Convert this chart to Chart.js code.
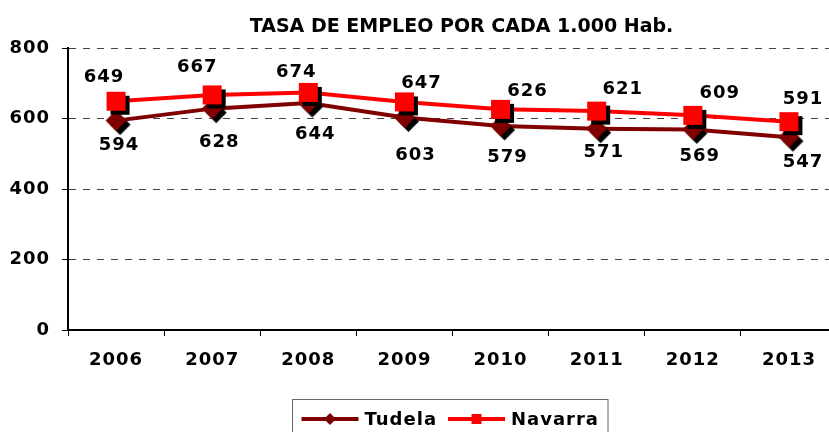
<!DOCTYPE html>
<html>
<head>
<meta charset="utf-8">
<script src="https://cdn.jsdelivr.net/npm/chart.js@4/dist/chart.umd.min.js"></script>
<style>
  html, body { margin: 0; padding: 0; background: #fff; overflow: hidden; }
  #wrap { width: 829px; height: 432px; overflow: hidden; position: relative; }
  #empleoChart { display: block; }
</style>
</head>
<body>
<div id="wrap"><canvas id="empleoChart" width="851" height="432"></canvas></div>
<script>
const years = ['2006', '2007', '2008', '2009', '2010', '2011', '2012', '2013'];
const tudela = [594, 628, 644, 603, 579, 571, 569, 547];
const navarra = [649, 667, 674, 647, 626, 621, 609, 591];
const yTicks = [0, 200, 400, 600, 800];
const chartTitle = 'TASA DE EMPLEO POR CADA 1.000 Hab.';

// label offsets (px) from each marker, the way the spreadsheet placed them
const tudelaLabelOffsets = [[3, 25], [7, 34], [7, 31], [11, 38], [7, 31], [7, 24], [7, 27], [14, 25]];
const navarraLabelOffsets = [[-12, -24], [-15, -28], [-12, -20], [17, -19], [27, -18], [26, -22], [27, -22], [14, -22]];

const DARK_RED = '#800000';
const RED = '#ff0000';
const FONT = '"DejaVu Sans", Verdana, sans-serif';

function makeMarker(shape, color, half, shadow) {
    const size = Math.ceil((half + shadow) * 2) + 2;
    const c = document.createElement('canvas');
    c.width = size;
    c.height = size;
    const ctx = c.getContext('2d');
    const mid = size / 2;
    const paint = (cx, cy, fill) => {
        ctx.fillStyle = fill;
        ctx.beginPath();
        if (shape === 'square') {
            ctx.rect(cx - half, cy - half, half * 2, half * 2);
        } else {
            ctx.moveTo(cx, cy - half);
            ctx.lineTo(cx + half, cy);
            ctx.lineTo(cx, cy + half);
            ctx.lineTo(cx - half, cy);
            ctx.closePath();
        }
        ctx.fill();
    };
    if (shadow) paint(mid + shadow, mid + shadow, '#000');
    paint(mid, mid, color);
    return c;
}

const diamondMarker = makeMarker('diamond', DARK_RED, 10.5, 4);
const squareMarker = makeMarker('square', RED, 9.5, 4);

// slightly spaced lettering for all chart text
const spacing = {
    id: 'spacing',
    beforeDraw(chart) { chart.ctx.letterSpacing = '1px'; },
    afterDraw(chart) { chart.ctx.letterSpacing = '0px'; }
};

const titlePlugin = {
    id: 'titleText',
    afterDraw(chart) {
        const {ctx, chartArea} = chart;
        ctx.save();
        ctx.letterSpacing = '0px';
        ctx.font = 'bold 19px ' + FONT;
        ctx.fillStyle = '#000';
        ctx.textAlign = 'center';
        ctx.textBaseline = 'middle';
        ctx.fillText(chartTitle, (chartArea.left + chartArea.right) / 2 + 9, 27);
        ctx.restore();
    }
};

const valueLabels = {
    id: 'valueLabels',
    afterDatasetsDraw(chart) {
        const {ctx} = chart;
        const offsets = [tudelaLabelOffsets, navarraLabelOffsets];
        ctx.save();
        ctx.letterSpacing = '1px';
        ctx.font = 'bold 18px ' + FONT;
        ctx.fillStyle = '#000';
        ctx.textAlign = 'center';
        ctx.textBaseline = 'middle';
        chart.data.datasets.forEach((ds, di) => {
            const meta = chart.getDatasetMeta(di);
            meta.data.forEach((pt, i) => {
                const [dx, dy] = offsets[di][i];
                ctx.fillText(String(ds.data[i]), pt.x + dx, pt.y + dy);
            });
        });
        ctx.restore();
    }
};

// legend in a bordered box under the axis
const boxedLegend = {
    id: 'boxedLegend',
    afterDraw(chart) {
        const {ctx, chartArea} = chart;
        const sampleW = 57, gapText = 6, gapItem = 11, padX = 9;
        ctx.save();
        ctx.letterSpacing = '1px';
        ctx.font = 'bold 18px ' + FONT;
        const items = chart.data.datasets.map(ds => ({
            label: ds.label,
            color: ds.borderColor,
            shape: ds.legendShape,
            textW: ctx.measureText(ds.label).width
        }));
        let total = padX * 2;
        items.forEach((it, i) => {
            total += sampleW + gapText + it.textW + (i < items.length - 1 ? gapItem : 0);
        });
        const boxLeft = Math.round((chartArea.left + chartArea.right) / 2 - total / 2) - 2.5;
        const boxTop = 399.5;
        const cy = 419;
        ctx.strokeStyle = '#666';
        ctx.lineWidth = 1;
        ctx.strokeRect(boxLeft, boxTop, total, 44);
        let x = boxLeft + padX;
        items.forEach(it => {
            ctx.strokeStyle = it.color;
            ctx.lineWidth = 4;
            ctx.beginPath();
            ctx.moveTo(x, cy);
            ctx.lineTo(x + sampleW, cy);
            ctx.stroke();
            ctx.fillStyle = it.color;
            const mx = x + sampleW / 2;
            ctx.beginPath();
            if (it.shape === 'square') {
                ctx.rect(mx - 5, cy - 5, 10, 10);
            } else {
                ctx.moveTo(mx, cy - 6);
                ctx.lineTo(mx + 6, cy);
                ctx.lineTo(mx, cy + 6);
                ctx.lineTo(mx - 6, cy);
                ctx.closePath();
            }
            ctx.fill();
            x += sampleW + gapText;
            ctx.fillStyle = '#000';
            ctx.textAlign = 'left';
            ctx.textBaseline = 'middle';
            ctx.fillText(it.label, x, cy + 1);
            x += it.textW + gapItem;
        });
        ctx.restore();
    }
};

const ctx = document.getElementById('empleoChart').getContext('2d');
new Chart(ctx, {
    type: 'line',
    data: {
        labels: years,
        datasets: [
            {
                label: 'Tudela',
                data: tudela,
                borderColor: DARK_RED,
                backgroundColor: DARK_RED,
                borderWidth: 4,
                pointStyle: diamondMarker,
                pointRadius: 10,
                legendShape: 'diamond',
                tension: 0,
                order: 1
            },
            {
                label: 'Navarra',
                data: navarra,
                borderColor: RED,
                backgroundColor: RED,
                borderWidth: 4,
                pointStyle: squareMarker,
                pointRadius: 10,
                legendShape: 'square',
                tension: 0,
                order: 0
            }
        ]
    },
    options: {
        responsive: false,
        animation: false,
        layout: { padding: { top: 48, right: 8, left: 0, bottom: 0 } },
        plugins: {
            legend: { display: false },
            title: { display: false },
            tooltip: { enabled: false }
        },
        scales: {
            x: {
                offset: true,
                afterFit(scale) { scale.height = 102; },
                grid: {
                    offset: true,
                    drawOnChartArea: false,
                    drawTicks: true,
                    tickLength: 6,
                    tickColor: '#000'
                },
                border: { display: true, color: '#000', width: 2 },
                ticks: {
                    color: '#000',
                    padding: 14,
                    font: { family: FONT, size: 18, weight: 'bold' }
                }
            },
            y: {
                min: 0,
                max: 800,
                afterFit(scale) { scale.width = 68; },
                afterBuildTicks(scale) { scale.ticks = yTicks.map(v => ({value: v})); },
                grid: {
                    color: '#444',
                    lineWidth: 1,
                    drawTicks: true,
                    tickLength: 6,
                    tickColor: '#000',
                    tickBorderDash: []
                },
                border: { display: true, color: '#000', width: 2, dash: [7, 7] },
                ticks: {
                    color: '#000',
                    padding: 12,
                    font: { family: FONT, size: 18, weight: 'bold' }
                }
            }
        }
    },
    plugins: [spacing, titlePlugin, valueLabels, boxedLegend]
});
</script>
</body>
</html>
